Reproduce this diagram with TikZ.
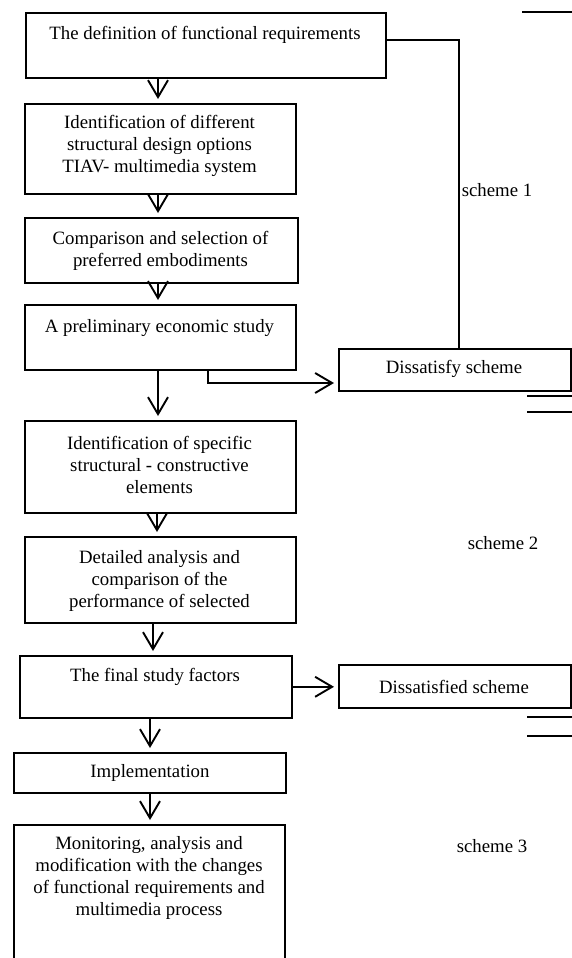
\documentclass[tikz,border=0pt]{standalone}
\usepackage{fontspec}
\setmainfont{Liberation Serif}
\usetikzlibrary{arrows.meta}
\begin{document}
\begin{tikzpicture}[x=1pt,y=-1pt,
  box/.style={draw, line width=1.6pt, inner sep=0pt, anchor=north west},
  txt/.style={font=\fontsize{18.8}{21.7}\selectfont, align=center, inner sep=0pt},
  thinconn/.style={line width=1.4pt},
  arr/.style={line width=1.9pt, -{Straight Barb[length=17pt,width=20pt]}, shorten >=4pt},
  rule/.style={line width=1.6pt}]
\useasboundingbox (0,0) rectangle (572,958);
\clip (0,0) rectangle (572,958);

% boxes
\node[box, minimum width=360pt, minimum height=65pt] (b1) at (25,12) {};
\node[box, minimum width=271pt, minimum height=90pt] (b2) at (24,103) {};
\node[box, minimum width=273pt, minimum height=65pt] (b3) at (24,217) {};
\node[box, minimum width=271pt, minimum height=65pt] (b4) at (24,304) {};
\node[box, minimum width=232pt, minimum height=42pt] (d1) at (338,348) {};
\node[box, minimum width=271pt, minimum height=92pt] (b5) at (24,420) {};
\node[box, minimum width=271pt, minimum height=86pt] (b6) at (24,536) {};
\node[box, minimum width=272pt, minimum height=62pt] (b7) at (19,655) {};
\node[box, minimum width=232pt, minimum height=43pt] (d2) at (338,664) {};
\node[box, minimum width=272pt, minimum height=40pt] (b8) at (13,752) {};
\node[box, minimum width=271pt, minimum height=150pt] (b9) at (13,824) {};

% texts
\node[txt] (t1) at (205,35) {The definition of functional requirements};
\node[txt] (t2) at (159.5,146) {Identification of different\\structural design options\\TIAV- multimedia system};
\node[txt] (t3) at (160.5,251) {Comparison and selection of\\preferred embodiments};
\node[txt] (t4) at (159.5,328) {A preliminary economic study};
\node[txt] (td1) at (454,369) {Dissatisfy scheme};
\node[txt] (t5) at (159.5,465) {Identification of specific\\structural - constructive\\elements};
\node[txt] (t6) at (159.5,581) {Detailed analysis and\\comparison of the\\performance of selected};
\node[txt] (t7) at (155,677) {The final study factors};
\node[txt] (td2) at (454,687) {Dissatisfied scheme};
\node[txt] (t8) at (150,773) {Implementation};
\node[txt] (t9) at (149,878) {Monitoring, analysis and\\modification with the changes\\of functional requirements and\\multimedia process};
\node[txt] (s1) at (497,190) {scheme 1};
\node[txt] (s2) at (503,543) {scheme 2};
\node[txt] (s3) at (492,846) {scheme 3};

% feedback line
\coordinate (c1) at (459,40);
\draw[thinconn] (c1 -| b1.east) -- (c1) -- (c1 |- d1.north);

% elbow arrow
\coordinate (c2) at (208,383);
\draw[arr] (c2 |- b4.south) -- (c2) -- (c2 -| d1.west);

% vertical arrows
\coordinate (v1) at (158,0);
\coordinate (v5) at (157,0);
\coordinate (v6) at (153,0);
\coordinate (v7) at (150,0);
\draw[arr] (v1 |- b1.south) -- (v1 |- b2.north);
\draw[arr] (v1 |- b2.south) -- (v1 |- b3.north);
\draw[arr] (v1 |- b3.south) -- (v1 |- b4.north);
\draw[arr] (v1 |- b4.south) -- (v1 |- b5.north);
\draw[arr] (v5 |- b5.south) -- (v5 |- b6.north);
\draw[arr] (v6 |- b6.south) -- (v6 |- b7.north);
\draw[arr] (v7 |- b7.south) -- (v7 |- b8.north);
\draw[arr] (v7 |- b8.south) -- (v7 |- b9.north);

% side arrow
\draw[arr] (b7.east) -- (b7.east -| d2.west);

% separator rules at right
\draw[rule] (522,12) -- (572,12);
\draw[rule] (527,396) -- (572,396);
\draw[rule] (527,412) -- (572,412);
\draw[rule] (527,717) -- (572,717);
\draw[rule] (527,736) -- (572,736);
\end{tikzpicture}
\end{document}
